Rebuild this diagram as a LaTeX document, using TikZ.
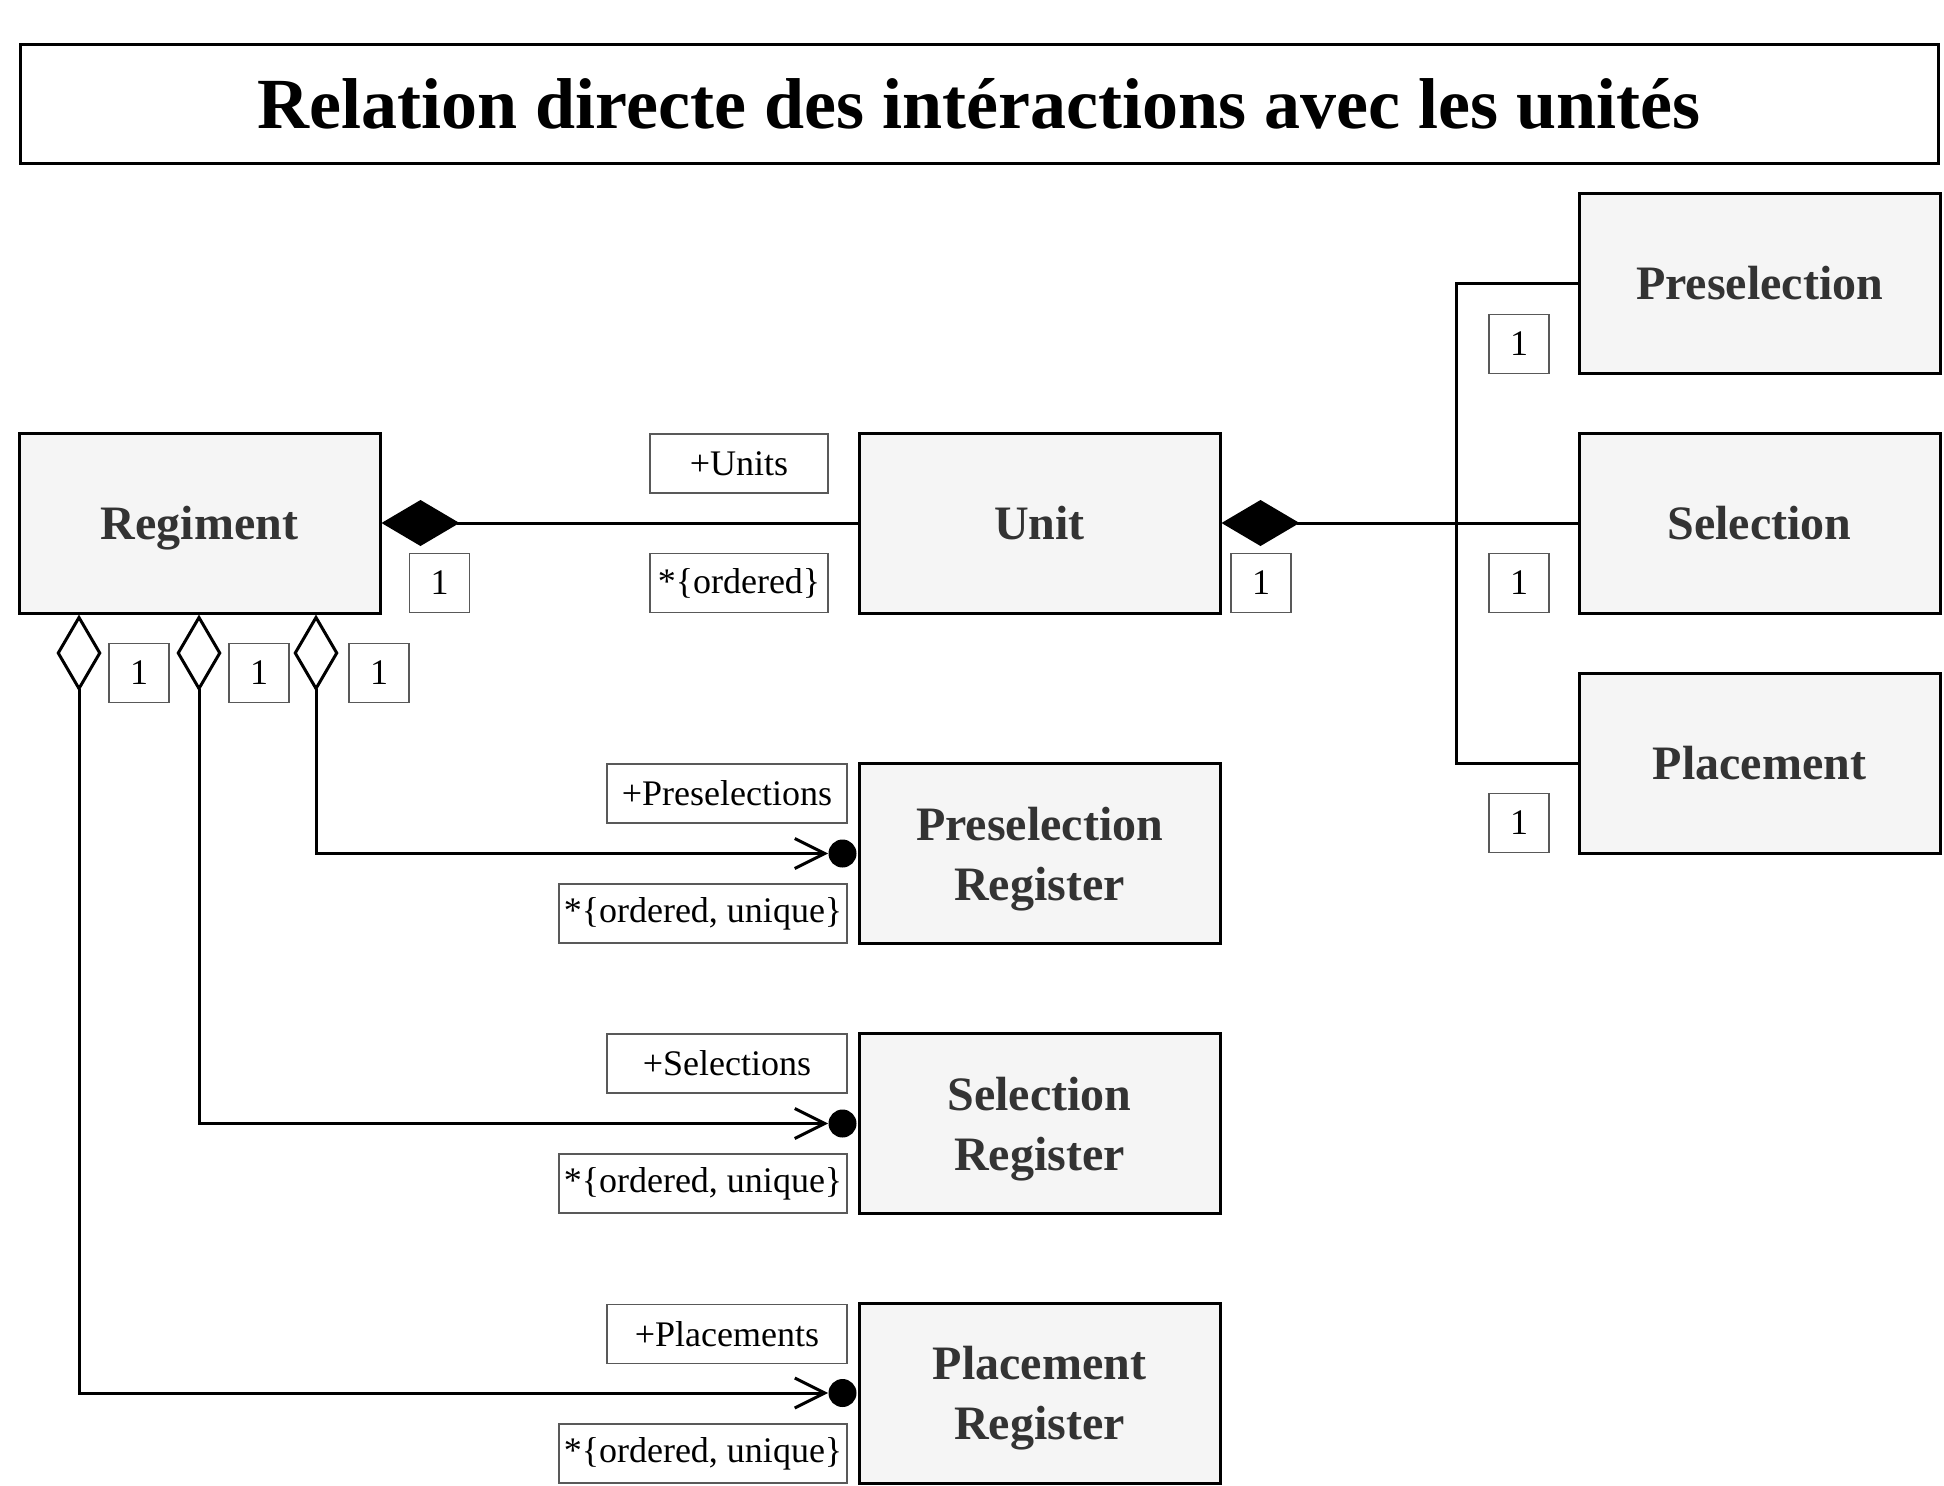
\documentclass[tikz,border=0pt]{standalone}
\usepackage{fontspec}
\setmainfont{Liberation Serif}
\usetikzlibrary{arrows.meta}
\definecolor{boxfill}{HTML}{F5F5F5}
\definecolor{boxtext}{HTML}{333333}
\newcommand{\nodepth}[1]{\raisebox{0pt}[\height][0pt]{#1}}
\begin{document}
\begin{tikzpicture}[x=0.5pt,y=-0.5pt,
  clsbox/.style={draw=black, line width=1.5pt, fill=boxfill, minimum width=180.5pt, minimum height=90pt, inner sep=0pt, align=center, text=boxtext, font=\fontsize{24}{30}\selectfont\bfseries},
  lblbox/.style={draw=black!65, line width=0.6pt, fill=white, minimum height=29.5pt, inner sep=0pt, font=\fontsize{18}{22}\selectfont},
  conn/.style={line width=1.5pt},
  compo/.style={{Diamond[length=39pt,width=23pt]}-},
  aggro/.style={{Diamond[open,fill=white,length=38.5pt,width=22.5pt]}-{Straight Barb[length=15pt,width=15pt]}},
  regdot/.style={circle, fill=black, inner sep=0pt, minimum size=14pt}
]
\path[use as bounding box] (0,0) rectangle (1944,1485);

% title
\node[draw=black, line width=1.5pt, fill=white, minimum width=959pt, minimum height=59.5pt, inner sep=0pt, font=\fontsize{36}{44}\selectfont\bfseries] (title) at (979,103.5) {Relation directe des intéractions avec les unités};

% classes
\node[clsbox] (reg) at (199.5,523) {\nodepth{Regiment}};
\node[clsbox] (unit) at (1039.5,523) {Unit};
\node[clsbox] (pre) at (1759.5,283) {Preselection};
\node[clsbox] (sel) at (1759.5,523) {Selection};
\node[clsbox] (pla) at (1759.5,763) {Placement};
\node[clsbox] (prereg) at (1039.5,853.5) {Preselection\\\nodepth{Register}};
\node[clsbox] (selreg) at (1039.5,1123.5) {Selection\\\nodepth{Register}};
\node[clsbox] (plareg) at (1039.5,1393) {Placement\\\nodepth{Register}};

% labels
\node[lblbox, minimum width=30pt] (m1) at (439.5,583) {1};
\node[lblbox, minimum width=89pt] (lunits) at (739,463.5) {+Units};
\node[lblbox, minimum width=89pt] (lord) at (739,583) {*\{ordered\}};
\node[lblbox, minimum width=30pt] (m2) at (1261,583) {1};
\node[lblbox, minimum width=30pt] (m3) at (139,673) {1};
\node[lblbox, minimum width=30pt] (m4) at (259,673) {1};
\node[lblbox, minimum width=30pt] (m5) at (379,673) {1};
\node[lblbox, minimum width=30pt] (m6) at (1519,344) {1};
\node[lblbox, minimum width=30pt] (m7) at (1519,583) {1};
\node[lblbox, minimum width=30pt] (m8) at (1519,823) {1};
\node[lblbox, minimum width=120pt] (lpre) at (727,793.5) {+Preselections};
\node[lblbox, minimum width=144pt] (lpreu) at (703,913.5) {*\{ordered, unique\}};
\node[lblbox, minimum width=120pt] (lsel) at (727,1063.5) {+Selections};
\node[lblbox, minimum width=144pt] (lselu) at (703,1183.5) {*\{ordered, unique\}};
\node[lblbox, minimum width=120pt] (lpla) at (727,1334) {+Placements};
\node[lblbox, minimum width=144pt] (lplau) at (703,1453.5) {*\{ordered, unique\}};

% dots
\node[regdot] (d1) at ([xshift=-7.5pt]prereg.west) {};
\node[regdot] (d2) at ([xshift=-7.5pt]selreg.west) {};
\node[regdot] (d3) at ([xshift=-7.5pt]plareg.west) {};

% connectors
\draw[conn, compo] (reg.east) -- (unit.west);
\draw[conn, compo] (unit.east) -- (sel.west);
\draw[conn] (pre.west) -- ++(-121,0) |- (pla.west);
\draw[conn, aggro] ([xshift=58.25pt]reg.south) |- (d1.west);
\draw[conn, aggro] ([xshift=-0.25pt]reg.south) |- (d2.west);
\draw[conn, aggro] ([xshift=-60.25pt]reg.south) |- (d3.west);
\end{tikzpicture}
\end{document}
